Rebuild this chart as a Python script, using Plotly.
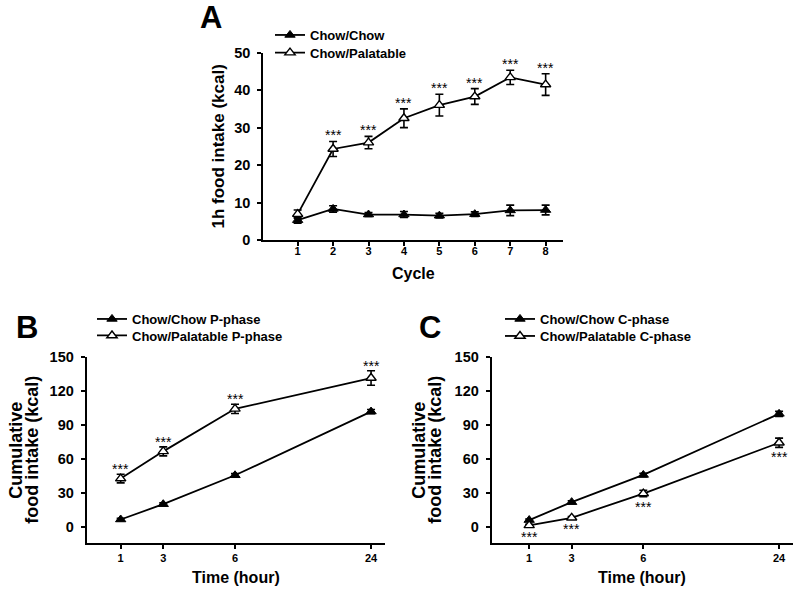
import plotly.graph_objects as go

# ---------------- data ----------------
cycles = [1, 2, 3, 4, 5, 6, 7, 8]
a_chow = [5.3, 8.3, 6.8, 6.8, 6.5, 6.9, 7.9, 8.0]
a_chow_err = [0.8, 0.85, 0.5, 0.8, 0.6, 0.6, 1.4, 1.3]
a_pal = [6.9, 24.3, 26.0, 32.5, 36.0, 38.3, 43.4, 41.5]
a_pal_err = [1.1, 2.0, 1.65, 2.5, 2.9, 2.1, 1.9, 2.9]
a_sig = ["", "***", "***", "***", "***", "***", "***", "***"]

hour_labels = ["1", "3", "6", "24"]
b_chow = [6.4, 19.9, 45.4, 101.6]
b_chow_err = [1.0, 1.2, 1.5, 1.8]
b_pal = [42.5, 66.5, 104.0, 131.2]
b_pal_err = [3.8, 4.0, 4.1, 6.4]
b_sig = ["***", "***", "***", "***"]

c_chow = [5.9, 21.7, 45.7, 99.6]
c_chow_err = [1.0, 1.2, 1.5, 2.2]
c_pal = [1.2, 7.9, 29.3, 74.1]
c_pal_err = [1.0, 1.2, 2.9, 4.1]
c_sig = ["***", "***", "***", "***"]

# non-uniform spacing of the time axis (axis scale, not data)
hour_axis_pos = [1, 2.19, 4.197, 8]

FONT = "Arial, Liberation Sans, sans-serif"
W, H = 800, 591

fig = go.Figure()

def add_pair(x, chow, chow_err, pal, pal_err, xa, ya, n1, n2, leg1, leg2):
    fig.add_trace(go.Scatter(
        x=x, y=chow, name=n1, mode="lines+markers", xaxis=xa, yaxis=ya, legend=leg1,
        line=dict(color="black", width=1.8),
        marker=dict(symbol="triangle-up", size=9, color="black", line=dict(color="black", width=1)),
        error_y=dict(type="data", array=chow_err, color="black", thickness=1.6, width=4)))
    fig.add_trace(go.Scatter(
        x=x, y=pal, name=n2, mode="lines+markers", xaxis=xa, yaxis=ya, legend=leg2,
        line=dict(color="black", width=1.8),
        marker=dict(symbol="triangle-up", size=9, color="white", line=dict(color="black", width=1.4)),
        error_y=dict(type="data", array=pal_err, color="black", thickness=1.6, width=4)))

add_pair(cycles, a_chow, a_chow_err, a_pal, a_pal_err, "x", "y",
         "Chow/Chow", "Chow/Palatable", "legend", "legend2")
add_pair(hour_axis_pos, b_chow, b_chow_err, b_pal, b_pal_err, "x2", "y2",
         "Chow/Chow P-phase", "Chow/Palatable P-phase", "legend3", "legend4")
add_pair(hour_axis_pos, c_chow, c_chow_err, c_pal, c_pal_err, "x3", "y3",
         "Chow/Chow C-phase", "Chow/Palatable C-phase", "legend5", "legend6")

star_font = dict(family=FONT, size=14, color="black")
annotations = []
# significance stars
for x, v, e, s in zip(cycles, a_pal, a_pal_err, a_sig):
    if s:
        annotations.append(dict(x=x, y=v + e, xref="x", yref="y", text=s, showarrow=False,
                                yanchor="bottom", yshift=-4, font=star_font))
for x, v, e, s in zip(hour_axis_pos, b_pal, b_pal_err, b_sig):
    annotations.append(dict(x=x, y=v + e, xref="x2", yref="y2", text=s, showarrow=False,
                            yanchor="bottom", yshift=-5, font=star_font))
for x, v, e, s in zip(hour_axis_pos, c_pal, c_pal_err, c_sig):
    annotations.append(dict(x=x, y=v - e, xref="x3", yref="y3", text=s, showarrow=False,
                            yanchor="top", yshift=0, font=star_font))

# panel letters
for txt, px, py in [("A", 211, 18), ("B", 27, 327), ("C", 430, 327)]:
    annotations.append(dict(x=px / W, y=1 - py / H, xref="paper", yref="paper", text=txt,
                            showarrow=False, xanchor="center", yanchor="middle",
                            font=dict(family=FONT, size=31, color="black", weight="bold")))

# two-line y titles for B and C
for xr, yr, shifts in [("x2", "y2", (-71, -55)), ("x3", "y3", (-73, -57))]:
    for txt, sh in zip(["Cumulative", "food intake (kcal)"], shifts):
        annotations.append(dict(x=0, y=0.5, xref=xr + " domain", yref=yr + " domain", text=txt,
                                showarrow=False, textangle=-90, xshift=sh,
                                xanchor="center", yanchor="middle",
                                font=dict(family=FONT, size=18, color="black", weight="bold")))

# x-axis titles
title_font = dict(family=FONT, size=16, color="black", weight="bold")
for xr, txt, ypx in [("x", "Cycle", 273.5), ("x2", "Time (hour)", 577.5), ("x3", "Time (hour)", 577.5)]:
    annotations.append(dict(x=0.5, y=1 - ypx / H, xref=xr + " domain", yref="paper", text=txt,
                            showarrow=False, xanchor="center", yanchor="middle", font=title_font))

def xaxis_style(domain, rng, tickvals, ticktext, anchor, standoff):
    return dict(domain=domain, range=rng, anchor=anchor, tickvals=tickvals, ticktext=ticktext,
                showline=True, linecolor="black", linewidth=2, ticks="outside", ticklen=4,
                tickwidth=1.5, tickcolor="black", showgrid=False, zeroline=False,
                automargin=False, ticklabelstandoff=standoff,
                tickfont=dict(family=FONT, size=11, color="black", weight="bold"))

def yaxis_style(domain, rng, dtick, anchor, title, tfsize, standoff):
    return dict(domain=domain, range=rng, anchor=anchor, tick0=0, dtick=dtick,
                showline=True, linecolor="black", linewidth=2, ticks="outside", ticklen=4,
                tickwidth=1.5, tickcolor="black", showgrid=False, zeroline=False,
                automargin=False, ticklabelstandoff=4,
                tickfont=dict(family=FONT, size=tfsize, color="black", weight="bold"),
                title=dict(text=title, standoff=standoff,
                           font=dict(family=FONT, size=17, color="black", weight="bold")))

def leg(xpx, ypx, size):
    return dict(x=xpx / W, y=1 - ypx / H, xanchor="left", yanchor="middle",
                font=dict(family=FONT, size=size, color="black", weight="bold"),
                bgcolor="rgba(0,0,0,0)", itemwidth=30)

fig.update_layout(
    width=W, height=H, margin=dict(l=0, r=0, t=0, b=0),
    paper_bgcolor="white", plot_bgcolor="white",
    xaxis=xaxis_style([263.3 / W, 563 / W], [0.03, 8.49], cycles, [str(c) for c in cycles], "y", -4),
    yaxis=yaxis_style([1 - 240 / H, 1 - 52.7 / H], [0, 50], 10, "x", "1h food intake (kcal)", 14.5, 5),
    xaxis2=xaxis_style([86.7 / W, 385 / W], [0.05, 8.39], hour_axis_pos, hour_labels, "y2", -1),
    yaxis2=yaxis_style([1 - 543.3 / H, 1 - 356.7 / H], [-14.6, 150], 30, "x2", "", 14.5, 5),
    xaxis3=xaxis_style([491.7 / W, 793 / W], [-0.05, 8.39], hour_axis_pos, hour_labels, "y3", -1),
    yaxis3=yaxis_style([1 - 543.3 / H, 1 - 356.7 / H], [-14.6, 150], 30, "x3", "", 14.5, 5),
    legend=leg(270, 35, 13),
    legend2=leg(270, 52.7, 13),
    legend3=leg(92, 319, 13),
    legend4=leg(92, 335.5, 13),
    legend5=leg(500, 319, 13),
    legend6=leg(500, 336, 13),
    annotations=annotations,
    showlegend=True,
)

fig.write_html("out.html", config={"displayModeBar": False},
               post_script="document.body.style.margin='0';")
